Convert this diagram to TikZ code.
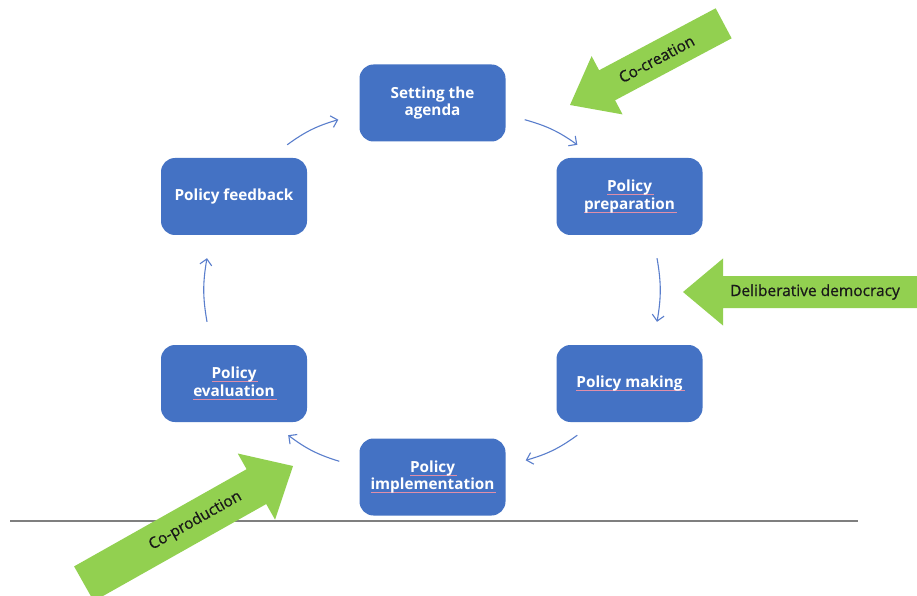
\documentclass[tikz,border=0pt]{standalone}
\usepackage{fontspec}
\setmainfont{Open Sans}
\newfontfamily\labelfont[FakeBold=0.7]{Open Sans}
\usetikzlibrary{arrows.meta}

\definecolor{boxblue}{HTML}{4472C4}
\definecolor{linkblue}{HTML}{5A7ECC}
\definecolor{leafgreen}{HTML}{92D050}
\definecolor{rulegray}{HTML}{7F7F7F}
\definecolor{squigred}{HTML}{E08EA8}

% thin spell-check style underline under a word
\newcommand\squig[1]{\setbox0\hbox{#1}\rlap{\color{squigred}\rule[-3.2pt]{\dimexpr\wd0+2pt\relax}{0.7pt}}\box0}

\tikzset{
  stage/.style={rectangle, rounded corners=14pt, fill=boxblue, draw=none,
    minimum width=146pt, minimum height=77pt, inner sep=0pt,
    text=white, align=center, font=\fontsize{15.3}{17.5}\selectfont\bfseries},
  flow/.style={draw=linkblue, line width=1.1pt,
    -{Straight Barb[length=6pt,width=12pt,line width=1.1pt]}, bend left=10},
  bigarrow/.style={fill=leafgreen, draw=none},
  arrowlabel/.style={text=black!90, font=\labelfont\fontsize{15.5}{18}\selectfont, inner sep=0pt},
}

\begin{document}
\begin{tikzpicture}[x=1pt, y=1pt]
  \useasboundingbox (0,0) rectangle (917,595);
  \clip (0,0) rectangle (917,595);
  \fill[white] (0,0) rectangle (917,595);

  % cycle stages
  \node[stage] (agenda)   at (432.5,492)   {Setting the\\agenda};
  \node[stage] (prep)     at (629.5,398.5) {\squig{Policy}\\\squig{preparation}};
  \node[stage] (making)   at (629.5,211.5) {\squig{Policy making}};
  \node[stage] (impl)     at (432.5,118)   {\squig{Policy}\\\squig{implementation}};
  \node[stage] (eval)     at (234,211.5)   {\squig{Policy}\\\squig{evaluation}};
  \node[stage] (feedback) at (234,398.5)   {Policy feedback};

  % cycle connectors
  \draw[flow] ([shift={(-20,13)}]feedback.north east) to ([shift={(-21,22)}]agenda.south west);
  \draw[flow] ([shift={(19,22)}]agenda.south east) to ([shift={(21,13)}]prep.north west);
  \draw[flow] ([shift={(27.5,-23)}]prep.south) to ([shift={(27.5,23)}]making.north);
  \draw[flow] ([shift={(21,-13)}]making.south west) to ([shift={(20,-22)}]impl.north east);
  \draw[flow] ([shift={(-20,-23)}]impl.north west) to ([shift={(-19,-13)}]eval.south east);
  \draw[flow] ([shift={(-27,23)}]eval.north) to ([shift={(-27,-23)}]feedback.south);

  % baseline rule
  \coordinate (ruleL) at (10,74);
  \coordinate (ruleR) at (858,74);
  \draw[rulegray, line width=1.6pt] (ruleL) -- (ruleR);

  % Co-creation arrow
  \begin{scope}[shift={(570,490)}, rotate=208]
    \fill[bigarrow] (0,0) -- (-42,33) -- (-42,17) -- (-174,17) -- (-174,-17)
      -- (-42,-17) -- (-42,-33) -- cycle;
    \node[arrowlabel, rotate=28] (cocreation) at (-98,0) {Co-creation};
  \end{scope}

  % Deliberative democracy arrow
  \begin{scope}[shift={(683,303)}, rotate=180]
    \fill[bigarrow] (0,0) -- (-40,33.5) -- (-40,16) -- (-260,16) -- (-260,-16)
      -- (-40,-16) -- (-40,-33.5) -- cycle;
    \node[arrowlabel] (deliberative) at (-132,0) {Deliberative democracy};
  \end{scope}

  % Co-production arrow
  \begin{scope}[shift={(293,129)}, rotate=29.4]
    \fill[bigarrow] (0,0) -- (-42,38) -- (-42,20) -- (-240,20) -- (-240,-20)
      -- (-42,-20) -- (-42,-38) -- cycle;
    \node[arrowlabel, rotate=29.4] (coproduction) at (-112,0) {Co-production};
  \end{scope}
\end{tikzpicture}
\end{document}
